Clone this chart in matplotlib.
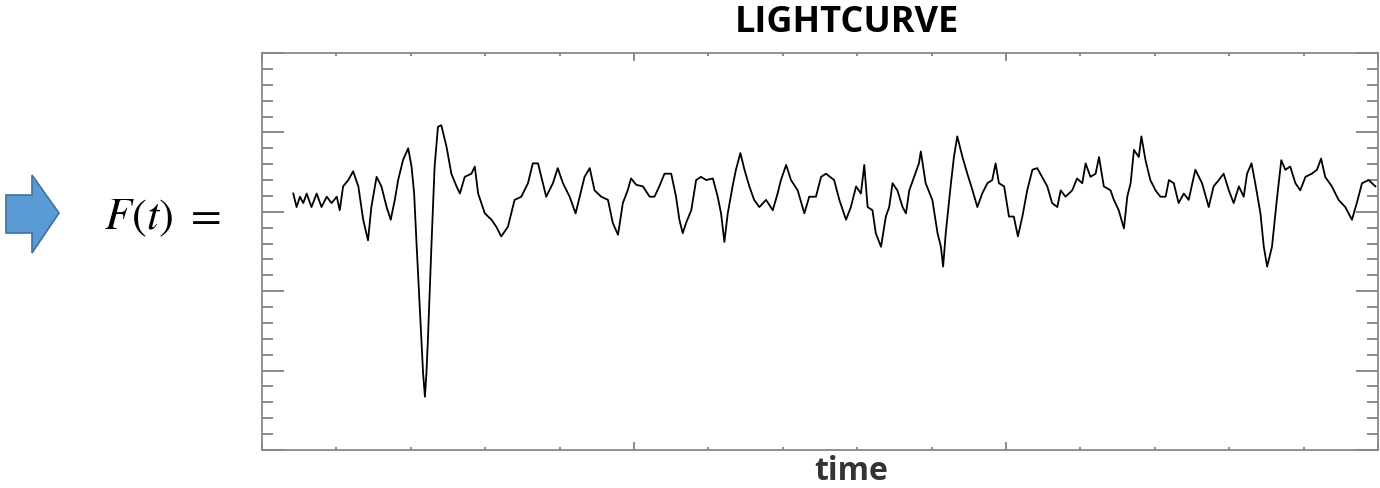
import numpy as np
import matplotlib
matplotlib.use("Agg")
import matplotlib.pyplot as plt
from matplotlib.patches import Polygon
from matplotlib.ticker import MultipleLocator

# light curve (time 0..3, flux 0..5, arbitrary units)
time = [0.084, 0.093, 0.102, 0.111, 0.120, 0.133, 0.147, 0.160, 0.174, 0.187,
        0.201, 0.209, 0.218, 0.232, 0.245, 0.259, 0.272, 0.285, 0.294, 0.308,
        0.321, 0.335, 0.346, 0.357, 0.366, 0.379, 0.393, 0.402, 0.409, 0.415,
        0.424, 0.433, 0.438, 0.442, 0.446, 0.456, 0.464, 0.473, 0.482, 0.496,
        0.509, 0.523, 0.532, 0.545, 0.563, 0.572, 0.581, 0.599, 0.617, 0.630,
        0.643, 0.661, 0.679, 0.697, 0.715, 0.728, 0.742,
        0.764, 0.782, 0.795, 0.809, 0.827, 0.843, 0.858, 0.867, 0.881, 0.894,
        0.912, 0.930, 0.943, 0.957, 0.970, 0.983, 0.992, 1.006, 1.024, 1.042,
        1.055, 1.068, 1.082, 1.100, 1.113, 1.122, 1.131, 1.140, 1.154, 1.167,
        1.180, 1.194, 1.212, 1.225, 1.234, 1.243, 1.252, 1.265, 1.274, 1.286,
        1.297, 1.310, 1.323, 1.337, 1.355, 1.373, 1.386, 1.395, 1.409, 1.422,
        1.440, 1.458, 1.471, 1.489, 1.503, 1.516, 1.538, 1.552, 1.570, 1.583,
        1.597, 1.610, 1.619, 1.628, 1.641, 1.650, 1.664, 1.677, 1.686, 1.695,
        1.708, 1.722, 1.731, 1.740, 1.753, 1.766, 1.771, 1.784, 1.802, 1.816,
        1.825, 1.831, 1.838, 1.852, 1.860, 1.869, 1.883, 1.896, 1.910, 1.923,
        1.936, 1.950, 1.963, 1.972, 1.981, 1.995, 2.008, 2.021, 2.032, 2.044,
        2.057, 2.071, 2.084, 2.097, 2.111, 2.124, 2.138, 2.147, 2.160, 2.178,
        2.191, 2.205, 2.214, 2.227, 2.241, 2.250, 2.263, 2.281, 2.290, 2.303,
        2.317, 2.326, 2.335, 2.344, 2.357, 2.364, 2.375, 2.388, 2.402, 2.415,
        2.429, 2.438, 2.451, 2.464, 2.478, 2.491, 2.509, 2.527, 2.545, 2.558,
        2.572, 2.585, 2.599, 2.612, 2.626, 2.639, 2.648, 2.660, 2.670, 2.684,
        2.693, 2.702, 2.715, 2.728, 2.740, 2.751, 2.764, 2.778, 2.791, 2.805,
        2.822, 2.836, 2.847, 2.858, 2.876, 2.894, 2.912, 2.930, 2.943, 2.957,
        2.975, 2.993]
flux = [3.23, 3.06, 3.19, 3.11, 3.23, 3.06, 3.23, 3.06, 3.19, 3.11,
        3.19, 3.02, 3.32, 3.40, 3.51, 3.32, 2.90, 2.64, 3.06, 3.44,
        3.32, 3.06, 2.90, 3.15, 3.40, 3.65, 3.80, 3.57, 3.23, 2.64,
        1.80, 0.97, 0.67, 0.97, 1.39, 2.64, 3.57, 4.07, 4.09, 3.82,
        3.48, 3.32, 3.23, 3.44, 3.48, 3.57, 3.23, 2.98, 2.90, 2.81,
        2.69, 2.81, 3.15, 3.19, 3.36, 3.61, 3.61,
        3.19, 3.36, 3.55, 3.36, 3.19, 2.98, 3.27, 3.44, 3.55, 3.27,
        3.19, 3.15, 2.86, 2.71, 3.11, 3.27, 3.42, 3.34, 3.32, 3.19,
        3.19, 3.32, 3.48, 3.48, 3.19, 2.90, 2.73, 2.86, 3.02, 3.40,
        3.44, 3.40, 3.42, 3.19, 2.98, 2.62, 2.98, 3.32, 3.53, 3.74,
        3.53, 3.32, 3.15, 3.06, 3.15, 3.02, 3.23, 3.40, 3.59, 3.40,
        3.27, 2.98, 3.19, 3.19, 3.44, 3.48, 3.40, 3.15, 2.90, 3.06,
        3.32, 3.23, 3.59, 3.06, 3.02, 2.73, 2.56, 2.94, 3.06, 3.36,
        3.27, 3.06, 2.98, 3.27, 3.44, 3.61, 3.76, 3.36, 3.15, 2.73,
        2.56, 2.31, 2.73, 3.36, 3.69, 3.95, 3.69, 3.48, 3.27, 3.06,
        3.23, 3.36, 3.40, 3.61, 3.36, 3.32, 2.94, 2.94, 2.69, 2.94,
        3.27, 3.53, 3.55, 3.44, 3.32, 3.11, 3.06, 3.27, 3.19, 3.27,
        3.42, 3.36, 3.61, 3.44, 3.48, 3.69, 3.32, 3.27, 3.15, 3.02,
        2.79, 3.19, 3.36, 3.78, 3.69, 3.95, 3.65, 3.40, 3.27, 3.19,
        3.19, 3.40, 3.36, 3.11, 3.23, 3.15, 3.53, 3.36, 3.06, 3.32,
        3.40, 3.48, 3.27, 3.11, 3.32, 3.19, 3.48, 3.61, 3.36, 2.98,
        2.56, 2.31, 2.56, 3.15, 3.65, 3.53, 3.57, 3.36, 3.27, 3.44,
        3.48, 3.53, 3.67, 3.44, 3.32, 3.15, 3.06, 2.90, 3.11, 3.36,
        3.40, 3.32]

title = "LIGHTCURVE"
xlabel = "time"
lhs = r"$F(t)\ =$"

plt.rcParams['font.family'] = ['Open Sans', 'DejaVu Sans']
plt.rcParams['mathtext.fontset'] = 'stix'

fig = plt.figure(figsize=(13.8, 4.88), dpi=100)
ax = fig.add_axes([262 / 1380, 1 - 450 / 488, 1116 / 1380, 397 / 488])

ax.plot(time, flux, color='black', lw=1.3)

ax.set_xlim(0, 3)
ax.set_ylim(0, 5)
ax.xaxis.set_major_locator(MultipleLocator(1))
ax.xaxis.set_minor_locator(MultipleLocator(0.2))
ax.yaxis.set_major_locator(MultipleLocator(1))
ax.yaxis.set_minor_locator(MultipleLocator(0.2))
ax.tick_params(which='both', direction='in', top=True, right=True,
               labelbottom=False, labelleft=False, color='#777777', width=1.2)
ax.tick_params(axis='y', which='major', length=16)
ax.tick_params(axis='y', which='minor', length=8)
ax.tick_params(axis='x', which='major', length=6)
ax.tick_params(axis='x', which='minor', length=2.5)
for s in ax.spines.values():
    s.set_color('#888888')
    s.set_linewidth(1.3)

fig.text(847 / 1380, 1 - 23 / 488, title, ha='center', va='center',
         fontsize=26, fontweight='bold', color='black')
fig.text(851 / 1380, 1 - 472 / 488, xlabel, ha='center', va='center',
         fontsize=23, fontweight='bold', color='#333333')
fig.text(162 / 1380, 1 - 218 / 488, lhs, ha='center', va='center',
         fontsize=32, color='black')

# blue block arrow on the left
arrow = [(6, 195), (32, 195), (32, 175), (59, 213), (32, 253), (32, 233), (6, 233)]
arrow = [(x / 1380, 1 - y / 488) for x, y in arrow]
fig.patches.append(Polygon(arrow, closed=True, transform=fig.transFigure,
                           facecolor='#5b9bd5', edgecolor='#41719c', lw=1.2))

fig.savefig('out.png', dpi=100)
